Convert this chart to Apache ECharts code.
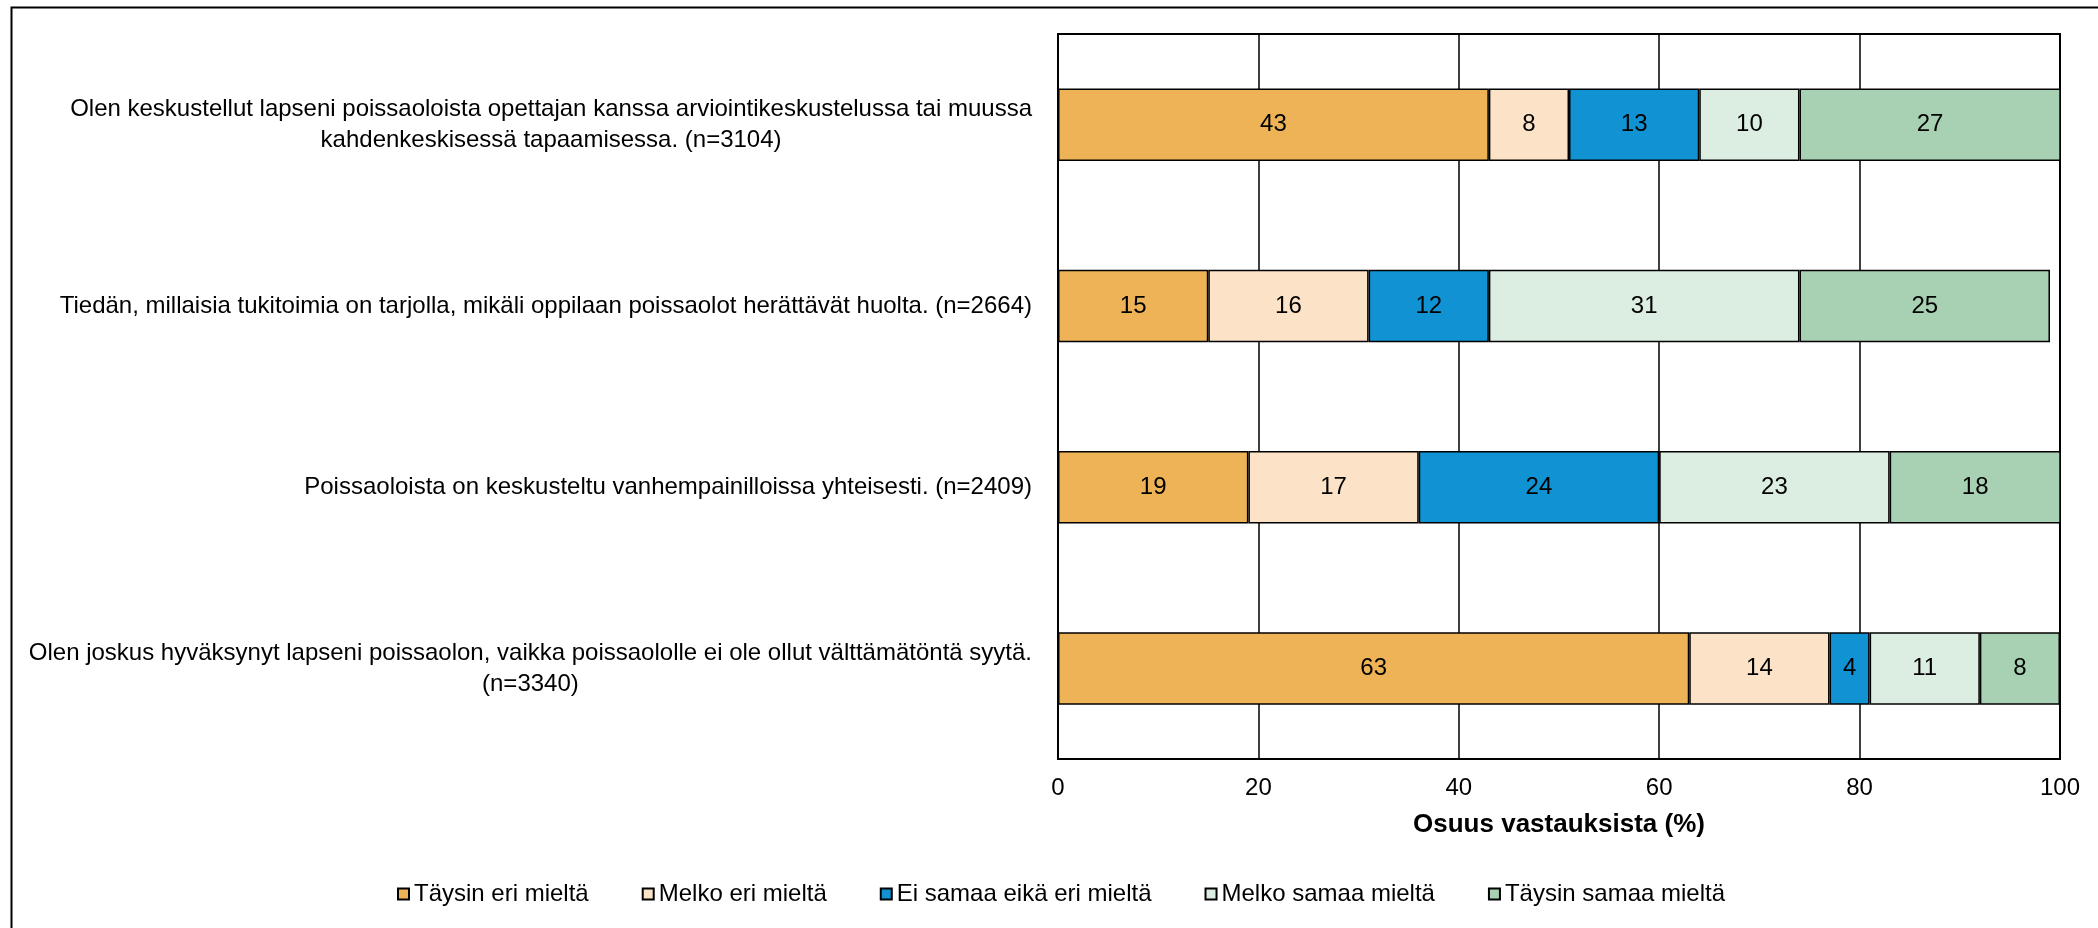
<!DOCTYPE html>
<html>
<head>
<meta charset="utf-8">
<script src="https://cdn.jsdelivr.net/npm/echarts@6/dist/echarts.min.js"></script>
<style>
  html, body { margin: 0; padding: 0; background: #fff; }
  #chart { width: 2098px; height: 928px; }
</style>
</head>
<body>
<div id="chart"></div>
<script>
// kysymykset (ylhäältä alas)
const categories = [
  'Olen keskustellut lapseni poissaoloista opettajan kanssa arviointikeskustelussa tai muussa\nkahdenkeskisessä tapaamisessa. (n=3104)',
  'Tiedän, millaisia tukitoimia on tarjolla, mikäli oppilaan poissaolot herättävät huolta. (n=2664)',
  'Poissaoloista on keskusteltu vanhempainilloissa yhteisesti. (n=2409)',
  'Olen joskus hyväksynyt lapseni poissaolon, vaikka poissaololle ei ole ollut välttämätöntä syytä.\n(n=3340)'
]
const seriesNames = ['Täysin eri mieltä', 'Melko eri mieltä', 'Ei samaa eikä eri mieltä', 'Melko samaa mieltä', 'Täysin samaa mieltä']
const taysinEri = [43, 15, 19, 63]
const melkoEri = [8, 16, 17, 14]
const eiSamaaEikaEri = [13, 12, 24, 4]
const melkoSamaa = [10, 31, 23, 11]
const taysinSamaa = [27, 25, 18, 8]
const xTicks = [0, 20, 40, 60, 80, 100]

const colors = ['#eeb357', '#fce3c8', '#1192d3', '#dcede2', '#a8d1b3']
const values = [taysinEri, melkoEri, eiSamaaEikaEri, melkoSamaa, taysinSamaa]
const font = 'Liberation Sans, Arial, sans-serif'

const chart = echarts.init(document.getElementById('chart'))

chart.setOption({
  animation: false,
  textStyle: { fontFamily: font },
  graphic: [{
    type: 'rect',
    left: 9, top: 5,
    shape: { width: 2300, height: 1100 },
    style: { fill: 'none', stroke: '#000', lineWidth: 2 },
    silent: true
  }],
  legend: {
    left: 392,
    top: 877,
    itemGap: 53,
    itemWidth: 11,
    itemHeight: 11,
    icon: 'rect',
    textStyle: { fontSize: 24, color: '#000', fontFamily: font },
    data: seriesNames
  },
  grid: {
    left: 1058,
    right: 38,
    top: 34,
    bottom: 169,
    show: true,
    borderColor: '#000',
    borderWidth: 2,
    containLabel: false
  },
  xAxis: {
    type: 'value',
    min: 0,
    max: 100,
    interval: 20,
    name: 'Osuus vastauksista (%)',
    nameLocation: 'middle',
    nameGap: 53,
    nameTextStyle: { fontSize: 26, fontWeight: 'bold', color: '#000', fontFamily: font },
    axisLine: { show: true, lineStyle: { color: '#000', width: 2 } },
    axisTick: { show: false },
    axisLabel: {
      fontSize: 24, color: '#000', margin: 17,
      formatter: v => xTicks.indexOf(v) >= 0 ? String(v) : ''
    },
    splitLine: { show: true, lineStyle: { color: '#000', width: 1.5 } }
  },
  yAxis: {
    type: 'category',
    inverse: true,
    data: categories,
    axisLine: { show: true, lineStyle: { color: '#000', width: 2 } },
    axisTick: { show: false },
    axisLabel: {
      margin: 26,
      align: 'right',
      formatter: v => v.split('\n').map(s => '{c|' + s + '}').join('\n'),
      rich: {
        c: { align: 'center', fontSize: 24, lineHeight: 31, color: '#000', fontFamily: font }
      }
    }
  },
  series: seriesNames.map((name, i) => ({
    name: name,
    type: 'bar',
    stack: 'total',
    barWidth: '40%',
    data: values[i],
    itemStyle: { color: colors[i], borderColor: '#000', borderWidth: 1.5 },
    label: {
      show: true,
      position: 'inside',
      fontSize: 24,
      color: '#000',
      fontFamily: font
    }
  }))
})
</script>
</body>
</html>
